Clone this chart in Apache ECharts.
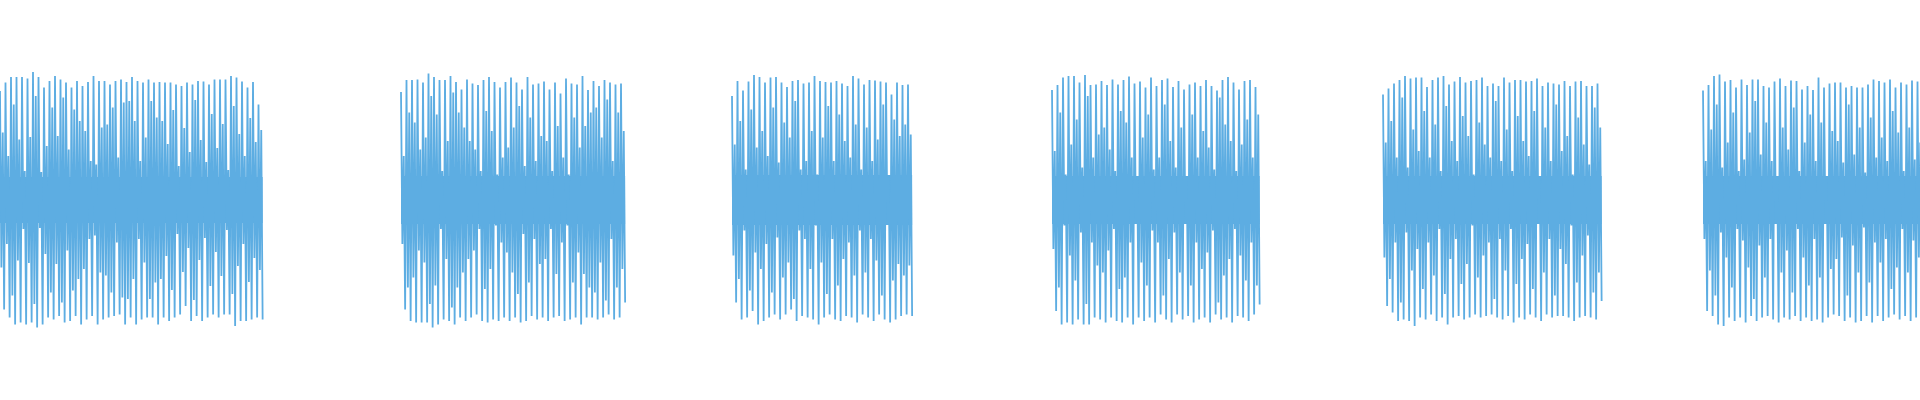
<!DOCTYPE html>
<html>
<head>
<meta charset="utf-8">
<script src="https://cdn.jsdelivr.net/npm/echarts@6/dist/echarts.min.js"></script>
<style>
    html, body { margin: 0; padding: 0; background: #fff; }
    #wave { width: 1920px; height: 400px; }
</style>
</head>
<body>
<div id="wave"></div>
<script>
// amplitudes on a -1..1 scale; each period is top peak, mid dip, mid peak, bottom peak
var SAMPLE_MS = 6.875;
var TOTAL_MS = 9600;

var segStartMs = [0, 2005, 3660, 5260, 6915, 8515];
var bandHalf = [0.115, 0.12, 0.125, 0.12, 0.12, 0.12];

var seg1Top = [.545,.587,.615,.615,.615,.608,.64,.615,.562,.595,.62,.603,.587,.562,.595,.57,.59,.62,.595,.595,.578,.595,.603,.59,.615,.595,.587,.603,.587,.59,.587,.587,.578,.57,.587,.578,.595,.592,.578,.603,.603,.603,.62,.612,.592,.562,.59,.478];
var seg1Mid = [.337,.22,.478,.303,.145,.315,.52,.14,.27,.462,.32,.512,.253,.453,.395,.345,.195,.178,.362,.378,.462,.212,.487,.495,.395,.195,.312,.495,.412,.395,.28,.45,.17,.36,.24,.5,.3,.19,.43,.26,.38,.15,.47,.33,.22,.41,.29,.35];
var seg1Bottom = [.547,.588,.622,.613,.622,.613,.638,.622,.588,.597,.58,.613,.605,.58,.622,.597,.58,.622,.597,.588,.58,.572,.622,.588,.622,.597,.588,.588,.622,.588,.605,.588,.572,.53,.605,.58,.605,.588,.572,.588,.572,.572,.63,.605,.605,.597,.588,.597];

var seg2Top = [.54,.6,.6,.603,.587,.633,.615,.6,.6,.62,.59,.553,.603,.582,.575,.6,.615,.59,.562,.59,.612,.587,.553,.615,.578,.582,.592,.553,.587,.532,.608,.583,.578,.62,.55,.595,.57,.6,.587,.578,.583];
var seg2Mid = [.22,.437,.387,.253,.312,.52,.428,.145,.295,.537,.437,.362,.295,.253,.145,.445,.345,.128,.212,.262,.362,.47,.17,.412,.195,.32,.295,.145,.37,.212,.128,.412,.262,.37,.437,.462,.312,.503,.195,.437,.345];
var seg2Bottom = [.547,.605,.613,.613,.613,.638,.622,.597,.605,.622,.588,.605,.588,.572,.605,.613,.597,.605,.588,.605,.588,.613,.605,.58,.597,.588,.605,.588,.58,.605,.597,.588,.622,.588,.588,.597,.588,.572,.597,.588,.513];

var seg3Top = [.52,.595,.548,.592,.625,.615,.587,.612,.615,.587,.565,.595,.6,.583,.587,.62,.595,.59,.587,.595,.583,.57,.62,.607,.578,.6,.598,.592,.587,.528,.587,.575,.578];
var seg3Mid = [.278,.395,.153,.453,.262,.345,.22,.462,.187,.387,.312,.495,.153,.195,.345,.128,.312,.47,.195,.428,.295,.212,.378,.153,.362,.195,.303,.478,.12,.403,.32,.378,.328];
var seg3Bottom = [.513,.597,.588,.555,.622,.605,.588,.572,.597,.572,.547,.605,.58,.588,.597,.622,.588,.572,.597,.605,.58,.588,.613,.572,.588,.605,.572,.597,.613,.597,.58,.572,.58];

var seg4Top = [.55,.575,.612,.62,.62,.587,.625,.575,.578,.595,.575,.603,.578,.6,.617,.583,.592,.562,.612,.57,.6,.608,.565,.595,.553,.578,.587,.57,.6,.57,.548,.6,.615,.587,.553,.595,.6,.565];
var seg4Mid = [.245,.437,.128,.278,.403,.162,.52,.212,.328,.362,.253,.145,.445,.387,.212,.103,.312,.428,.153,.212,.478,.295,.162,.362,.12,.428,.212,.345,.262,.153,.512,.378,.295,.145,.278,.403,.212,.428];
var seg4Bottom = [.555,.622,.613,.622,.597,.622,.622,.588,.597,.613,.588,.605,.613,.588,.622,.588,.605,.588,.613,.572,.597,.613,.572,.597,.58,.613,.597,.588,.613,.572,.597,.588,.613,.58,.588,.605,.572,.522];

var seg5Top = [.528,.558,.583,.6,.62,.608,.612,.612,.565,.6,.612,.62,.578,.592,.615,.587,.595,.6,.612,.57,.582,.57,.612,.587,.6,.6,.592,.595,.608,.57,.587,.583,.578,.595,.57,.592,.595,.57,.57,.583];
var seg5Mid = [.287,.395,.212,.512,.162,.353,.245,.445,.212,.378,.145,.47,.295,.195,.42,.32,.128,.387,.278,.212,.495,.195,.353,.145,.42,.295,.22,.445,.112,.362,.195,.478,.245,.32,.128,.412,.278,.178,.462,.362];
var seg5Bottom = [.53,.563,.605,.597,.605,.63,.588,.597,.572,.605,.588,.622,.588,.58,.597,.588,.572,.588,.58,.572,.588,.597,.58,.613,.588,.597,.572,.588,.605,.572,.588,.58,.58,.588,.605,.588,.58,.588,.597,.505];

var seg6Top = [.548,.575,.62,.628,.592,.6,.562,.603,.575,.603,.603,.57,.562,.592,.608,.57,.598,.595,.553,.57,.55,.612,.562,.582,.587,.587,.562,.57,.562,.562,.578,.603,.595,.587,.603,.562,.587,.578,.598,.592];
var seg6Mid = [.195,.353,.478,.162,.287,.437,.145,.203,.337,.495,.228,.387,.195,.112,.362,.253,.462,.145,.287,.428,.195,.387,.103,.345,.295,.187,.478,.228,.362,.137,.412,.212,.312,.195,.445,.337,.145,.362,.203,.287];
var seg6Bottom = [.555,.58,.622,.63,.588,.605,.588,.613,.58,.605,.588,.58,.597,.613,.588,.597,.58,.605,.588,.605,.597,.613,.588,.572,.58,.605,.588,.613,.605,.58,.613,.58,.605,.588,.572,.597,.58,.605,.588,.58];

var segTops = [seg1Top, seg2Top, seg3Top, seg4Top, seg5Top, seg6Top];
var segMids = [seg1Mid, seg2Mid, seg3Mid, seg4Mid, seg5Mid, seg6Mid];
var segBottoms = [seg1Bottom, seg2Bottom, seg3Bottom, seg4Bottom, seg5Bottom, seg6Bottom];

var waveData = [];
var bandUp = [];
var bandDown = [];

segStartMs.forEach(function (start, k) {
    var tops = segTops[k], mids = segMids[k], bottoms = segBottoms[k];
    var t = start;
    for (var i = 0; i < tops.length; i++) {
        waveData.push([t, tops[i]]);
        waveData.push([t + SAMPLE_MS, -mids[i]]);
        waveData.push([t + 2 * SAMPLE_MS, mids[i]]);
        waveData.push([t + 3 * SAMPLE_MS, -bottoms[i]]);
        t += 4 * SAMPLE_MS;
    }
    var end = t - SAMPLE_MS;
    // break the line between segments
    waveData.push([t, '-']);
    bandUp.push([start, bandHalf[k]], [end, bandHalf[k]], [t, '-']);
    bandDown.push([start, -bandHalf[k]], [end, -bandHalf[k]], [t, '-']);
});

var color = '#5dade2';
var chart = echarts.init(document.getElementById('wave'));
chart.setOption({
    animation: false,
    grid: { left: 0, right: 0, top: 0, bottom: 0 },
    xAxis: { type: 'value', min: 0, max: TOTAL_MS, show: false },
    yAxis: { type: 'value', min: -1, max: 1, show: false },
    series: [
        {
            type: 'line', data: bandUp, symbol: 'none', silent: true,
            lineStyle: { width: 0 }, areaStyle: { color: color, opacity: 1 }
        },
        {
            type: 'line', data: bandDown, symbol: 'none', silent: true,
            lineStyle: { width: 0 }, areaStyle: { color: color, opacity: 1 }
        },
        {
            type: 'line', data: waveData, symbol: 'none', sampling: 'none',
            lineStyle: { color: color, width: 1.8 }
        }
    ]
});
</script>
</body>
</html>
